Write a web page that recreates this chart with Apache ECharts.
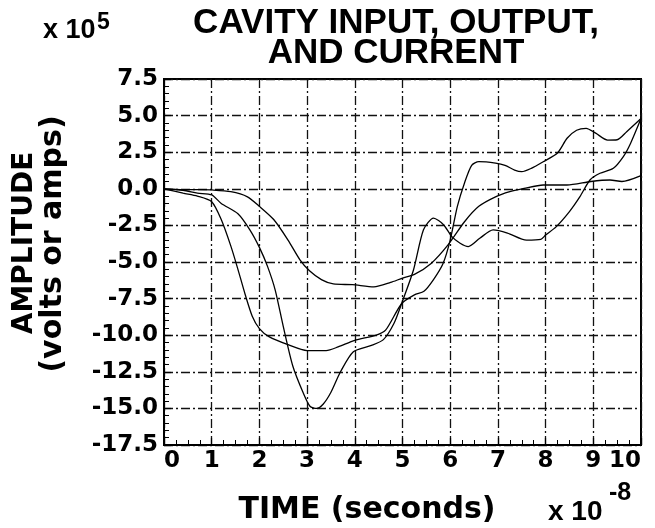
<!DOCTYPE html>
<html>
<head>
<meta charset="utf-8">
<script src="https://cdn.jsdelivr.net/npm/echarts@6/dist/echarts.min.js"></script>
<style>
html,body{margin:0;padding:0;background:#fff}
#chart{width:655px;height:528px}
</style>
</head>
<body>
<div id="chart"></div>
<script>
// 时间轴单位 x 10^-8 s，幅值单位 x 10^5
var t1 = [0, 0.4, 0.7, 1.0, 1.4, 1.75, 2.0, 2.3, 2.6, 2.85, 3.05, 3.3, 3.55, 3.95, 4.4, 4.75, 5.0, 5.25, 5.6, 5.95, 6.3, 6.6, 6.95, 7.25, 7.55, 7.95, 8.45, 8.95, 9.35, 9.6, 10];
var v1 = [0, -0.05, -0.05, -0.08, -0.2, -0.55, -1.2, -2.1, -3.5, -4.85, -5.6, -6.2, -6.5, -6.55, -6.7, -6.4, -6.1, -5.85, -5.1, -3.85, -2.25, -1.2, -0.55, -0.2, 0.03, 0.26, 0.26, 0.5, 0.6, 0.5, 0.9];

var t2 = [0, 0.4, 0.7, 1.0, 1.2, 1.4, 1.55, 1.7, 1.85, 2.0, 2.2, 2.6, 3.0, 3.4, 3.65, 4.0, 4.45, 4.65, 4.98, 5.25, 5.45, 5.65, 5.85, 6.0, 6.15, 6.3, 6.45, 6.6, 6.95, 7.15, 7.35, 7.5, 7.7, 7.95, 8.25, 8.45, 8.65, 8.85, 9.05, 9.3, 9.5, 9.7, 10];
var v2 = [0, -0.3, -0.5, -0.88, -2.1, -3.9, -5.5, -7.2, -8.7, -9.55, -10.1, -10.65, -11.05, -11.05, -10.8, -10.35, -10.0, -9.64, -7.85, -7.25, -7.0, -6.2, -5.1, -3.5, -1.2, 0.4, 1.6, 1.85, 1.75, 1.6, 1.28, 1.17, 1.4, 1.85, 2.45, 3.45, 4.0, 4.13, 3.8, 3.33, 3.35, 3.9, 4.8];

var t3 = [0, 0.4, 0.7, 1.0, 1.2, 1.55, 1.8, 2.0, 2.17, 2.33, 2.5, 2.7, 2.92, 3.06, 3.2, 3.34, 3.5, 3.7, 3.97, 4.35, 4.6, 4.82, 4.98, 5.23, 5.44, 5.65, 5.86, 6.03, 6.2, 6.38, 6.62, 6.9, 7.2, 7.6, 7.9, 8.0, 8.22, 8.5, 8.72, 8.93, 9.14, 9.42, 9.63, 9.78, 10];
var v3 = [0, -0.1, -0.3, -0.42, -1.0, -1.7, -2.8, -4.0, -5.3, -6.9, -9.4, -12.1, -13.95, -14.85, -15.0, -14.7, -13.9, -12.5, -11.13, -10.7, -10.3, -9.2, -7.85, -5.55, -2.8, -2.0, -2.45, -3.25, -3.7, -3.95, -3.38, -2.81, -3.02, -3.5, -3.45, -3.16, -2.6, -1.56, -0.54, 0.6, 1.06, 1.4, 2.2, 3.1, 4.8];

function pairs(t, v) {
	var arr = [];
	for (var i = 0; i < t.length; i++) {
		arr.push([t[i], v[i]]);
	}
	return arr;
}

var myChart = echarts.init(document.getElementById('chart'));

var gridLine = {
	show: true,
	lineStyle: { color: '#111', width: 1.3, type: [9, 3, 2, 3] }
};

function curve(name, t, v) {
	return {
		name: name,
		type: 'line',
		data: pairs(t, v),
		symbol: 'none',
		smooth: 0.25,
		lineStyle: { color: '#000', width: 1.3 }
	};
}

var option = {
	animation: false,
	backgroundColor: '#fff',
	grid: {
		left: 164, top: 79, right: 14, bottom: 83,
		show: true, borderColor: '#000', borderWidth: 2
	},
	xAxis: {
		type: 'value',
		min: 0, max: 10, interval: 1,
		axisLine: { show: true, onZero: false, lineStyle: { color: '#000', width: 2 } },
		axisTick: { show: true, inside: true, length: 7, lineStyle: { color: '#000', width: 1.2 } },
		minorTick: { show: true, splitNumber: 4, length: 5, lineStyle: { color: '#000', width: 1 } },
		splitLine: gridLine,
		axisLabel: {
			color: '#000', fontSize: 23, fontWeight: 'bold', fontFamily: 'DejaVu Sans',
			margin: 5, alignMinLabel: 'left', alignMaxLabel: 'right'
		}
	},
	yAxis: {
		type: 'value',
		min: -17.5, max: 7.5, interval: 2.5,
		axisLine: { show: true, onZero: false, lineStyle: { color: '#000', width: 2 } },
		axisTick: { show: true, inside: true, length: 7, lineStyle: { color: '#000', width: 1.2 } },
		minorTick: { show: true, splitNumber: 5, length: 5, lineStyle: { color: '#000', width: 1 } },
		splitLine: gridLine,
		axisLabel: {
			color: '#000', fontSize: 23, fontWeight: 'bold', fontFamily: 'DejaVu Sans',
			margin: 6,
			formatter: function (v) { return v.toFixed(1); }
		}
	},
	graphic: [
		{ type: 'text', x: 396, y: 23, style: { text: 'CAVITY INPUT, OUTPUT,', font: 'bold 35px "Liberation Sans"', fill: '#000', align: 'center', verticalAlign: 'middle' } },
		{ type: 'text', x: 396, y: 53, style: { text: 'AND CURRENT', font: 'bold 35px "Liberation Sans"', fill: '#000', align: 'center', verticalAlign: 'middle' } },
		{ type: 'text', x: 43, y: 44, style: { text: 'x 10', font: 'bold 27px "Liberation Sans"', fill: '#000', align: 'left', verticalAlign: 'bottom' } },
		{ type: 'text', x: 97, y: 34, style: { text: '5', font: 'bold 23px "Liberation Sans"', fill: '#000', align: 'left', verticalAlign: 'bottom' } },
		{ type: 'text', x: 25, y: 243, rotation: Math.PI / 2, style: { text: 'AMPLITUDE', font: 'bold 28px "DejaVu Sans"', fill: '#000', align: 'center', verticalAlign: 'middle' } },
		{ type: 'text', x: 53, y: 244, rotation: Math.PI / 2, style: { text: '(volts or amps)', font: 'bold 30px "DejaVu Sans"', fill: '#000', align: 'center', verticalAlign: 'middle' } },
		{ type: 'text', x: 367, y: 510, style: { text: 'TIME (seconds)', font: 'bold 30px "DejaVu Sans"', fill: '#000', align: 'center', verticalAlign: 'middle' } },
		{ type: 'text', x: 548, y: 526, style: { text: 'x 10', font: 'bold 28px "Liberation Sans"', fill: '#000', align: 'left', verticalAlign: 'bottom' } },
		{ type: 'text', x: 609, y: 506, style: { text: '-8', font: 'bold 25px "Liberation Sans"', fill: '#000', align: 'left', verticalAlign: 'bottom' } }
	],
	series: [
		curve('curve1', t1, v1),
		curve('curve2', t2, v2),
		curve('curve3', t3, v3)
	]
};

myChart.setOption(option);
</script>
</body>
</html>
